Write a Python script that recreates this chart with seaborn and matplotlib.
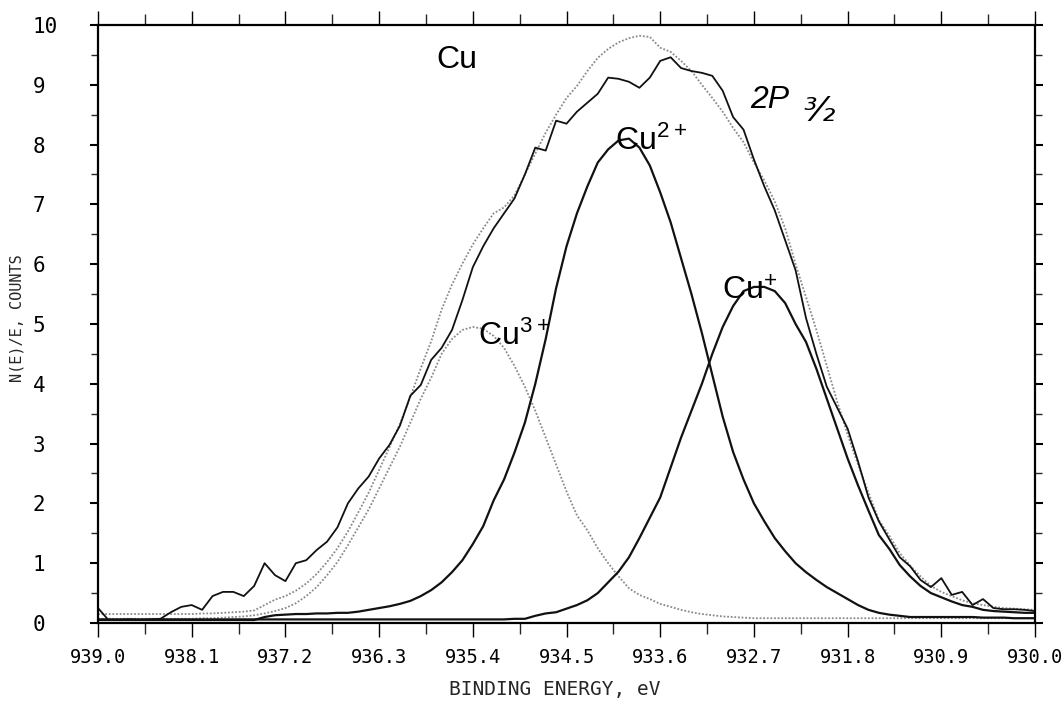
import numpy as np
import pandas as pd
import matplotlib
matplotlib.use("Agg")
import matplotlib.pyplot as plt
import seaborn as sns
from matplotlib.ticker import FixedLocator

# ---------------- data ----------------
binding_energy = np.linspace(939.0, 930.0, 91)  # sample positions, 0.1 eV step

measured = [0.25, 0.05, 0.05, 0.06, 0.05, 0.06, 0.07, 0.18, 0.27, 0.30,
            0.22, 0.45, 0.52, 0.52, 0.45, 0.62, 1.00, 0.80, 0.70, 1.00,
            1.05, 1.22, 1.36, 1.60, 2.00, 2.25, 2.45, 2.75, 2.98, 3.30,
            3.80, 3.98, 4.40, 4.60, 4.90, 5.40, 5.95, 6.30, 6.60, 6.85,
            7.10, 7.50, 7.95, 7.90, 8.40, 8.35, 8.55, 8.70, 8.85, 9.12,
            9.10, 9.05, 8.95, 9.12, 9.40, 9.46, 9.28, 9.23, 9.20, 9.15,
            8.90, 8.46, 8.25, 7.75, 7.30, 6.90, 6.40, 5.90, 5.10, 4.50,
            3.95, 3.60, 3.25, 2.70, 2.10, 1.70, 1.40, 1.10, 0.95, 0.72,
            0.60, 0.75, 0.47, 0.52, 0.30, 0.40, 0.25, 0.23, 0.23, 0.22,
            0.20]

envelope = [0.15, 0.15, 0.15, 0.15, 0.15, 0.15, 0.15, 0.15, 0.15, 0.15,
            0.16, 0.16, 0.17, 0.18, 0.19, 0.21, 0.30, 0.39, 0.45, 0.54,
            0.66, 0.82, 1.02, 1.25, 1.53, 1.85, 2.18, 2.56, 2.94, 3.33,
            3.78, 4.26, 4.71, 5.24, 5.66, 6.01, 6.33, 6.60, 6.85, 6.95,
            7.15, 7.50, 7.85, 8.20, 8.50, 8.78, 8.98, 9.23, 9.45, 9.60,
            9.71, 9.78, 9.82, 9.80, 9.62, 9.55, 9.40, 9.23, 9.00, 8.78,
            8.55, 8.28, 8.04, 7.70, 7.40, 7.05, 6.60, 6.00, 5.45, 4.90,
            4.30, 3.70, 3.15, 2.65, 2.18, 1.72, 1.46, 1.17, 0.96, 0.78,
            0.62, 0.52, 0.45, 0.38, 0.33, 0.30, 0.27, 0.25, 0.24, 0.23,
            0.22]

cu3 = [0.07, 0.07, 0.07, 0.07, 0.07, 0.07, 0.07, 0.07, 0.07, 0.07,
       0.08, 0.08, 0.09, 0.10, 0.11, 0.13, 0.16, 0.20, 0.25, 0.33,
       0.45, 0.60, 0.80, 1.02, 1.30, 1.60, 1.90, 2.25, 2.60, 2.95,
       3.35, 3.75, 4.10, 4.50, 4.75, 4.90, 4.95, 4.92, 4.80, 4.60,
       4.30, 3.95, 3.55, 3.10, 2.65, 2.20, 1.80, 1.55, 1.25, 1.00,
       0.78, 0.58, 0.47, 0.40, 0.32, 0.27, 0.22, 0.18, 0.15, 0.13,
       0.11, 0.10, 0.09, 0.08, 0.08, 0.08, 0.08, 0.08, 0.08, 0.08,
       0.08, 0.08, 0.08, 0.08, 0.08, 0.08, 0.08, 0.08, 0.08, 0.08,
       0.08, 0.08, 0.08, 0.08, 0.08, 0.08, 0.08, 0.08, 0.08, 0.08,
       0.08]

cu2 = [0.05, 0.05, 0.05, 0.05, 0.05, 0.05, 0.05, 0.05, 0.05, 0.05,
       0.05, 0.05, 0.05, 0.05, 0.05, 0.05, 0.10, 0.13, 0.14, 0.15,
       0.15, 0.16, 0.16, 0.17, 0.17, 0.19, 0.22, 0.25, 0.28, 0.32,
       0.37, 0.45, 0.55, 0.68, 0.85, 1.05, 1.32, 1.62, 2.05, 2.40,
       2.85, 3.35, 4.00, 4.75, 5.60, 6.30, 6.85, 7.30, 7.70, 7.92,
       8.07, 8.10, 7.95, 7.65, 7.20, 6.70, 6.10, 5.50, 4.85, 4.15,
       3.45, 2.86, 2.40, 2.00, 1.70, 1.42, 1.20, 1.00, 0.85, 0.72,
       0.60, 0.50, 0.40, 0.30, 0.22, 0.17, 0.14, 0.12, 0.10, 0.10,
       0.10, 0.10, 0.10, 0.10, 0.10, 0.09, 0.09, 0.09, 0.08, 0.08,
       0.08]

cu1 = [0.06, 0.06, 0.06, 0.06, 0.06, 0.06, 0.06, 0.06, 0.06, 0.06,
       0.06, 0.06, 0.06, 0.06, 0.06, 0.06, 0.06, 0.06, 0.06, 0.06,
       0.06, 0.06, 0.06, 0.06, 0.06, 0.06, 0.06, 0.06, 0.06, 0.06,
       0.06, 0.06, 0.06, 0.06, 0.06, 0.06, 0.06, 0.06, 0.06, 0.06,
       0.07, 0.07, 0.12, 0.16, 0.18, 0.24, 0.30, 0.38, 0.50, 0.68,
       0.86, 1.10, 1.42, 1.76, 2.10, 2.60, 3.10, 3.55, 4.00, 4.50,
       4.95, 5.30, 5.55, 5.62, 5.62, 5.55, 5.35, 5.00, 4.70, 4.25,
       3.75, 3.25, 2.75, 2.30, 1.88, 1.47, 1.24, 0.97, 0.78, 0.62,
       0.50, 0.43, 0.36, 0.30, 0.27, 0.22, 0.20, 0.19, 0.18, 0.17,
       0.17]

x_ticks = [939.0, 938.1, 937.2, 936.3, 935.4, 934.5, 933.6, 932.7, 931.8, 930.9, 930.0]
x_tick_labels = ["939.0", "938.1", "937.2", "936.3", "935.4", "934.5",
                 "933.6", "932.7", "931.8", "930.9", "930.0"]
y_ticks = [0, 1, 2, 3, 4, 5, 6, 7, 8, 9, 10]
y_tick_labels = ["0", "1", "2", "3", "4", "5", "6", "7", "8", "9", "10"]

# ---------------- figure ----------------
sns.set_theme(style="white")
plt.rcParams["font.family"] = ["DejaVu Sans Mono", "DejaVu Sans"]

fig = plt.figure(figsize=(10.63, 7.12), dpi=100)
ax = fig.add_axes([0.0922, 0.125, 0.8815, 0.8399])

df = pd.DataFrame({"be": binding_energy, "measured": measured, "envelope": envelope,
                   "cu3": cu3, "cu2": cu2, "cu1": cu1})

sns.lineplot(data=df, x="be", y="envelope", ax=ax, color="#8a8a8a", lw=1.3,
             linestyle=(0, (1, 1)), estimator=None, sort=False)
sns.lineplot(data=df, x="be", y="cu3", ax=ax, color="#8a8a8a", lw=1.3,
             linestyle=(0, (1, 1)), estimator=None, sort=False)
sns.lineplot(data=df, x="be", y="cu2", ax=ax, color="#111111", lw=1.6,
             estimator=None, sort=False)
sns.lineplot(data=df, x="be", y="cu1", ax=ax, color="#111111", lw=1.6,
             estimator=None, sort=False)
sns.lineplot(data=df, x="be", y="measured", ax=ax, color="#111111", lw=1.3,
             estimator=None, sort=False)

ax.set_xlim(939.0, 930.0)
ax.set_ylim(0, 10)
ax.set_xlabel("")
ax.set_ylabel("")

ax.set_xticks(x_ticks)
ax.set_xticklabels(x_tick_labels)
ax.xaxis.set_minor_locator(FixedLocator([a - 0.45 for a in x_ticks[:-1]]))
ax.set_yticks(y_ticks)
ax.set_yticklabels(y_tick_labels)
ax.yaxis.set_minor_locator(FixedLocator([v + 0.5 for v in y_ticks[:-1]]))

for s in ax.spines.values():
    s.set_color("black")
    s.set_linewidth(1.6)

ax.tick_params(axis="x", which="major", direction="out", length=10, width=1.0,
               top=True, bottom=True, pad=8, labelsize=13.5, colors="black")
ax.tick_params(axis="x", which="minor", direction="out", length=8, width=1.0,
               top=True, bottom=True)
ax.tick_params(axis="y", which="major", direction="out", length=6, width=1.5,
               left=True, right=True, pad=41, labelsize=15, colors="black")
ax.tick_params(axis="y", which="minor", direction="out", length=5, width=1.0,
               left=True, right=True)
for lab in ax.get_yticklabels():
    lab.set_ha("left")

# axis titles
fig.text(0.522, 1 - 690 / 712, "BINDING ENERGY, eV", ha="center", va="center",
         fontsize=14, family="DejaVu Sans Mono")
fig.text(17 / 1063, 1 - 318 / 712, "N(E)/E, COUNTS", rotation=90, ha="center",
         va="center", fontsize=11, family="DejaVu Sans Mono")

# annotations
lab_font = dict(family=["Liberation Sans", "DejaVu Sans"], fontsize=23, color="black")
ax.text(935.75, 9.28, "Cu", ha="left", va="baseline", **lab_font)
ax.text(934.03, 7.91, r"$\mathregular{Cu^{2+}}$", ha="left", va="baseline", **lab_font)
ax.text(935.35, 4.65, r"$\mathregular{Cu^{3+}}$", ha="left", va="baseline", **lab_font)
ax.text(933.01, 5.40, r"$\mathregular{Cu^{+}}$", ha="left", va="baseline", **lab_font)
ax.text(932.74, 8.61, "2P", ha="left", va="baseline", style="italic", **lab_font)
ax.text(932.22, 8.40, "³⁄₂", ha="left", va="baseline", style="italic",
        family=["DejaVu Sans"], fontsize=24, color="black")

fig.savefig("out.png", dpi=100)
